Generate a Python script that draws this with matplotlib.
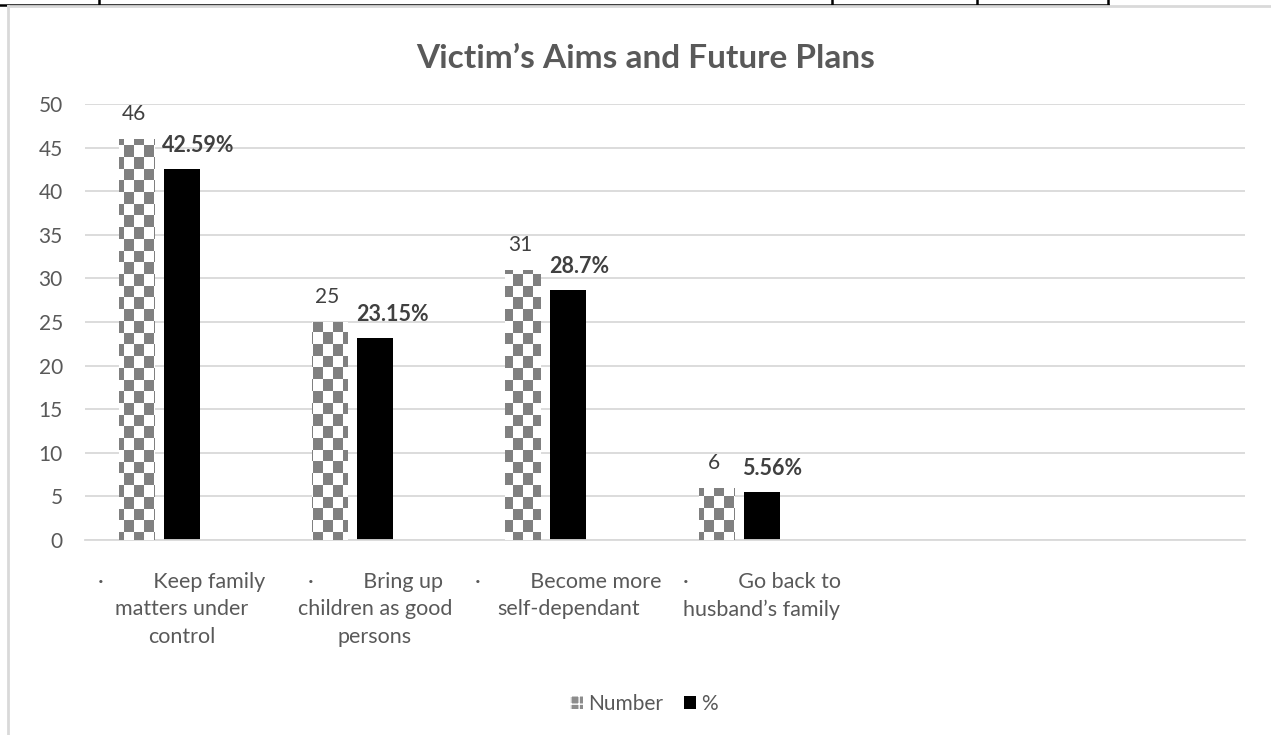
import numpy as np
import matplotlib
matplotlib.use("Agg")
import matplotlib.pyplot as plt
from matplotlib.lines import Line2D
from matplotlib.patches import Patch

# ---- data ----
SP = " " * 9
categories = [
    "·" + SP + "Keep family\nmatters under\ncontrol",
    "·" + SP + "Bring up\nchildren as good\npersons",
    "·" + SP + "Become more\nself-dependant",
    "·" + SP + "Go back to\nhusband’s family",
    "",
    "",
]
number_values = [46, 25, 31, 6]
percent_values = [42.59, 23.15, 28.7, 5.56]
number_labels = ["46", "25", "31", "6"]
percent_labels = ["42.59%", "23.15%", "28.7%", "5.56%"]
yticks = [0, 5, 10, 15, 20, 25, 30, 35, 40, 45, 50]
title = "Victim’s Aims and Future Plans"
series_names = ["Number", "%"]

FONT = "Lato"
plt.rcParams["font.family"] = [FONT, "DejaVu Sans"]

W, H = 1271, 735
AW, AH = 1160, 436
fig = plt.figure(figsize=(W / 100, H / 100), dpi=100)
fig.patch.set_facecolor("white")

ax = fig.add_axes([85 / W, 1 - 540 / H, AW / W, AH / H])
ax.set_facecolor("none")

n = len(categories)
x = np.arange(n)
bw = 0.186
off = 0.233

xn = x[:len(number_values)] - off
xp = x[:len(percent_values)]

num_bars = ax.bar(xn, number_values, width=bw, color="white", edgecolor="none", zorder=2)
pct_bars = ax.bar(xp, percent_values, width=bw, color="black", edgecolor="none", zorder=2)

# checkerboard texture clipped to the Number bars
cw, ch = 10.0, 11.7
x0, y0 = -1.7, -3.7          # pattern phase (pixels relative to axes corner)
ncols = int(np.ceil((AW - x0) / cw)) + 1
nrows = int(np.ceil((AH - y0) / ch)) + 1
rr, cc = np.indices((nrows, ncols))
chk = ((rr + cc) % 2).astype(float)
rgba = np.ones((nrows, ncols, 4))
rgba[chk == 1, :3] = 128 / 255
ext = (x0 / AW, (x0 + ncols * cw) / AW, y0 / AH, (y0 + nrows * ch) / AH)
for b in num_bars:
    im = ax.imshow(rgba, extent=ext, transform=ax.transAxes, origin="lower",
                   interpolation="nearest", aspect="auto", zorder=3)
    im.set_clip_path(b)

ax.set_xlim(-0.5, n - 0.5)
ax.set_ylim(0, 50)
ax.set_yticks(yticks)
ax.yaxis.grid(True, color="#d9d9d9", linewidth=1.3, zorder=0)
ax.set_axisbelow(True)
for s in ["top", "right", "left"]:
    ax.spines[s].set_visible(False)
ax.spines["bottom"].set_color("#d9d9d9")
ax.spines["bottom"].set_linewidth(1.3)
ax.tick_params(axis="both", length=0, labelcolor="#595959")
ax.tick_params(axis="y", pad=16, labelsize=15)
ax.tick_params(axis="x", pad=23, labelsize=15.5)
ax.set_xticks(x)
ax.set_xticklabels(categories, linespacing=1.46, color="#595959", fontsize=15.5)

for xi, v, lab in zip(xn, number_values, number_labels):
    ax.annotate(lab, (xi, v), xytext=(-2, 13.5), textcoords="offset points",
                ha="center", va="baseline", fontsize=15, color="#404040", zorder=5)
for xi, v, lab in zip(xp, percent_values, percent_labels):
    ax.annotate(lab, (xi - bw / 2, v), xytext=(-1, 12), textcoords="offset points",
                ha="left", va="baseline", fontsize=15.5, fontweight="bold",
                color="#404040", zorder=5)

fig.text(646 / W, 1 - 58 / H, title, ha="center", va="center",
         fontsize=24, fontweight="bold", color="#595959")

handles = [Patch(facecolor="#8c8c8c", edgecolor="white", hatch="++", linewidth=0),
           Patch(facecolor="black", edgecolor="none")]
leg = fig.legend(handles, series_names, loc="center", bbox_to_anchor=(644 / W, 1 - 704 / H),
                 ncol=2, frameon=False, fontsize=15, handlelength=0.6, handleheight=0.6,
                 handletextpad=0.25, columnspacing=1.0)
for t in leg.get_texts():
    t.set_color("#595959")

# page decorations: table edge on top and chart frame
fig.add_artist(Line2D([0, 1108 / W], [1 - 4.5 / H] * 2, color="black", lw=1.8,
                      transform=fig.transFigure))
for xv in [99, 832, 977, 1108]:
    fig.add_artist(Line2D([xv / W] * 2, [1 - 4.5 / H, 1.0], color="black", lw=1.8,
                          transform=fig.transFigure))
fig.add_artist(Line2D([8 / W, 1.0], [1 - 6 / H] * 2, color="#d9d9d9", lw=2,
                      transform=fig.transFigure))
fig.add_artist(Line2D([8 / W] * 2, [0, 1 - 6 / H], color="#d9d9d9", lw=2,
                      transform=fig.transFigure))

fig.savefig("out.png", dpi=100, facecolor="white")
